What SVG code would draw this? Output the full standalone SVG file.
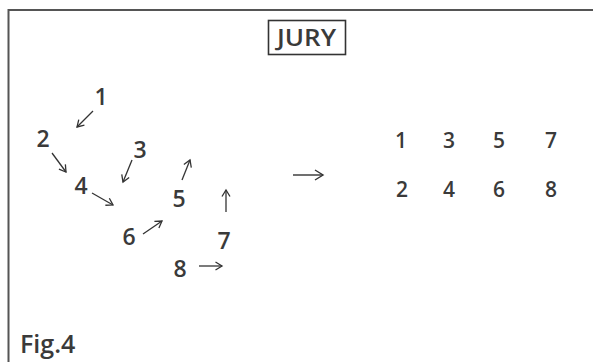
<svg xmlns="http://www.w3.org/2000/svg" width="593" height="362" viewBox="0 0 593 362">
<style>
.d{font-family:"Open Sans","Noto Sans",sans-serif;fill:#3a3a3a;text-anchor:middle}
.l{font-size:23px;font-weight:600}
.r{font-size:21px;font-weight:600}
.a{fill:none;stroke:#333;stroke-width:1.3;marker-end:url(#h)}
.b{fill:none;stroke:#333;stroke-width:1.4;marker-end:url(#H)}
</style>
<defs>
<marker id="h" markerUnits="userSpaceOnUse" viewBox="-8 -5 9 10" refX="0" refY="0" markerWidth="9" markerHeight="10" orient="auto" overflow="visible">
<path d="M-6.5,-4 L0,0 L-6.5,4" fill="none" stroke="#333" stroke-width="1.3"/>
</marker>
<marker id="H" markerUnits="userSpaceOnUse" viewBox="-10 -6 11 12" refX="0" refY="0" markerWidth="11" markerHeight="12" orient="auto" overflow="visible">
<path d="M-8,-5 L0,0 L-8,5" fill="none" stroke="#333" stroke-width="1.4"/>
</marker>
</defs>
<rect width="593" height="362" fill="#fff"/>
<g id="frame">
<path d="M593,10 H8.5 V362" fill="none" stroke="#555" stroke-width="2"/>
</g>
<g id="jury">
<rect x="268.5" y="20.5" width="77" height="34" fill="none" stroke="#333" stroke-width="1.6"/>
<text x="306.5" y="46" class="d" style="font-size:23px;font-weight:600" textLength="59" lengthAdjust="spacingAndGlyphs">JURY</text>
</g>
<g id="left-numbers">
<text id="n1" class="d l" x="101" y="105">1</text>
<text id="n2" class="d l" x="43" y="147">2</text>
<text id="n3" class="d l" x="140" y="158">3</text>
<text id="n4" class="d l" x="81" y="194">4</text>
<text id="n5" class="d l" x="179" y="207">5</text>
<text id="n6" class="d l" x="129" y="245">6</text>
<text id="n7" class="d l" x="224" y="249">7</text>
<text id="n8" class="d l" x="180" y="277">8</text>
</g>
<g id="right-numbers">
<text class="d r" x="401" y="148">1</text>
<text class="d r" x="449" y="148">3</text>
<text class="d r" x="499" y="148">5</text>
<text class="d r" x="551" y="148">7</text>
<text class="d r" x="402" y="197">2</text>
<text class="d r" x="449" y="197">4</text>
<text class="d r" x="499" y="197">6</text>
<text class="d r" x="551" y="197">8</text>
</g>
<g id="connectors">
<path class="a" d="M93,111 L77,127"/>
<path class="a" d="M52,153 L66,172"/>
<path class="a" d="M132,160 L123,182"/>
<path class="a" d="M92,193 L113,205"/>
<path class="a" d="M182,180 L190,160"/>
<path class="a" d="M143,234 L162,221"/>
<path class="a" d="M226,212 L226,190"/>
<path class="a" d="M199,266 L222,266"/>
<path class="b" d="M293,175 L323,175"/>
</g>
<g id="caption">
<text x="20" y="353" style="font-family:'Open Sans','Noto Sans',sans-serif;font-size:25px;font-weight:600;fill:#3a3a3a">Fig.4</text>
</g>
</svg>
